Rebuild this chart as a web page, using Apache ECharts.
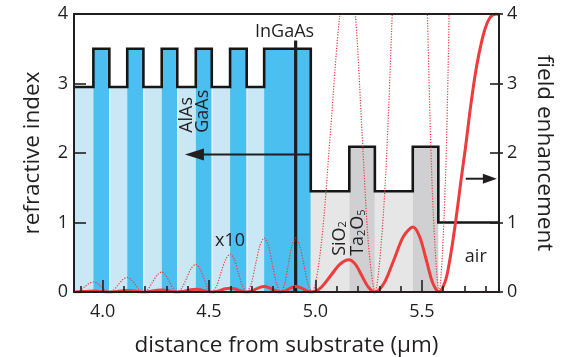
<!DOCTYPE html>
<html><head><meta charset="utf-8">
<script src="https://cdn.jsdelivr.net/npm/echarts@6/dist/echarts.min.js"></script>
<style>html,body{margin:0;padding:0;background:#fff}#c{width:562px;height:357px}</style>
</head><body><div id="c"></div>
<script>
// ---------------- data ----------------
const xRange = [3.866, 5.862];
const xTickLabels = [4.0, 4.5, 5.0, 5.5];
const xMinorTicks = [3.9, 4.1, 4.2, 4.3, 4.4, 4.6, 4.7, 4.8, 4.9, 5.1, 5.2, 5.3, 5.4, 5.6, 5.7, 5.8];
const yRange = [0, 4];

// layer structure (refractive index profile)
const layerStart = [3.866, 3.957, 4.032, 4.116, 4.192, 4.278, 4.351, 4.438, 4.513, 4.599, 4.677, 4.759, 4.978, 5.159, 5.279, 5.457, 5.577];
const layerEnd = 5.862;
const layerIndex = [2.95, 3.5, 2.95, 3.5, 2.95, 3.5, 2.95, 3.5, 2.95, 3.5, 2.95, 3.5, 1.45, 2.09, 1.45, 2.09, 1.0];
const layerMaterial = ['AlAs','GaAs','AlAs','GaAs','AlAs','GaAs','AlAs','GaAs','AlAs','GaAs','AlAs','GaAs','SiO2','Ta2O5','SiO2','Ta2O5','air'];

// InGaAs quantum well marker
const wellPosition = [4.907];
const wellHeight = [3.62];

// field enhancement |E|^2 (solid); dotted curve is the same x10
const fieldX = [3.866,
  3.872, 3.893, 3.915, 3.936, 3.957, 3.976, 3.995, 4.013,
  4.032, 4.053, 4.074, 4.095, 4.116, 4.135, 4.154, 4.173,
  4.192, 4.214, 4.235, 4.257, 4.278, 4.296, 4.315, 4.333,
  4.351, 4.373, 4.395, 4.416, 4.438, 4.457, 4.476, 4.494,
  4.513, 4.535, 4.556, 4.578, 4.599, 4.619, 4.638, 4.658,
  4.677, 4.698, 4.718, 4.739, 4.759, 4.779, 4.798, 4.818,
  4.837, 4.855, 4.872, 4.890, 4.907, 4.926, 4.946, 4.965,
  4.984, 5.027, 5.071, 5.114, 5.157, 5.188, 5.218, 5.249,
  5.279, 5.324, 5.369, 5.413, 5.458, 5.489, 5.520, 5.550,
  5.581, 5.597, 5.616, 5.639, 5.660, 5.682, 5.705, 5.730, 5.757, 5.791, 5.820, 5.850, 5.862];
const fieldY = [0.0001,
  0, 0.0021, 0.0072, 0.0123, 0.0144, 0.0123, 0.0072, 0.0021,
  0, 0.0031, 0.0105, 0.0179, 0.021, 0.0179, 0.0105, 0.0031,
  0, 0.0042, 0.0144, 0.0246, 0.0288, 0.0246, 0.0144, 0.0042,
  0, 0.0058, 0.0199, 0.0339, 0.0397, 0.0339, 0.0199, 0.0058,
  0, 0.008, 0.0274, 0.0467, 0.0547, 0.0467, 0.0274, 0.008,
  0, 0.0113, 0.0389, 0.0664, 0.0777, 0.0664, 0.0389, 0.0113,
  0, 0.0113, 0.0389, 0.0664, 0.0777, 0.0664, 0.0389, 0.0113,
  0, 0.068, 0.233, 0.397, 0.465, 0.397, 0.233, 0.068,
  0, 0.137, 0.468, 0.798, 0.935, 0.798, 0.468, 0.137,
  0, 0.06, 0.22, 0.61, 1.05, 1.57, 2.09, 2.70, 3.25, 3.73, 3.95, 4.0, 3.99];
const dottedScale = 10;

// ---------------- styling / layout ----------------
const FONT = '"Open Sans", "Liberation Sans", sans-serif';
const INK = '#231f20';
const RED = '#ee3b3b';
const matColor = {AlAs:'#c9e7f5', GaAs:'#4abff0', SiO2:'#e6e6e7', Ta2O5:'#d0d0d3', air:null};

const layerData = layerStart.map((s, i) => [s, i + 1 < layerStart.length ? layerStart[i + 1] : layerEnd, layerIndex[i], i]);
const stepData = layerStart.map((s, i) => [s, layerIndex[i]]).concat([[layerEnd, layerIndex[layerIndex.length - 1]]]);
const fieldData = fieldX.map((x, i) => [x, fieldY[i]]);
const fieldData10 = fieldX.map((x, i) => [x, fieldY[i] * dottedScale]);
const wellData = [[wellPosition[0], 0], [wellPosition[0], wellHeight[0]]];

// annotation layout (data coordinates)
const arrows = [
  {from: [4.978, 1.98], to: [4.387, 1.98], head: [19, 12]},
  {from: [5.706, 1.63], to: [5.852, 1.63], head: [14, 10]}
];
const texts = [
  {t: 'InGaAs', x: 4.855, y: 3.75, rot: 0, align: 'center'},
  {t: 'AlAs', x: 4.397, y: 2.29, rot: 90, align: 'left'},
  {t: 'GaAs', x: 4.473, y: 2.29, rot: 90, align: 'left'},
  {t: 'x10', x: 4.599, y: 0.74, rot: 0, align: 'center'},
  {t: '{m|SiO}{s|2}', x: 5.100, y: 0.52, rot: 90, align: 'left'},
  {t: '{m|Ta}{s|2}{m|O}{s|5}', x: 5.186, y: 0.52, rot: 90, align: 'left'},
  {t: 'air', x: 5.753, y: 0.51, rot: 0, align: 'center'}
];

const chart = echarts.init(document.getElementById('c'), null, {renderer: 'canvas', width: 562, height: 357});

const axisLineStyle = {color: INK, width: 2};
const tickStyle = {color: INK, width: 1.6};
const labelStyle = {color: INK, fontSize: 18, fontFamily: FONT};
const nameStyle = {color: INK, fontSize: 22.5, fontFamily: FONT};

const option = {
  animation: false,
  backgroundColor: '#ffffff',
  grid: {left: 74, right: 63, top: 14, bottom: 65, containLabel: false, outerBoundsMode: 'none'},
  xAxis: [
    {type: 'value', min: xRange[0], max: xRange[1], position: 'bottom', z: 10,
      axisLine: {show: true, onZero: false, lineStyle: axisLineStyle},
      axisTick: {show: true, inside: true, length: 12, customValues: xTickLabels, lineStyle: tickStyle},
      axisLabel: Object.assign({customValues: xTickLabels, formatter: v => Number(v).toFixed(1), margin: 11}, labelStyle),
      splitLine: {show: false},
      name: 'distance from substrate (μm)', nameLocation: 'middle', nameGap: 42, nameTextStyle: nameStyle},
    {type: 'value', min: xRange[0], max: xRange[1], position: 'bottom', z: 10,
      axisLine: {show: false, onZero: false},
      axisTick: {show: true, inside: true, length: 6, customValues: xMinorTicks, lineStyle: tickStyle},
      axisLabel: {show: false}, splitLine: {show: false}},
    {type: 'value', min: xRange[0], max: xRange[1], position: 'top', z: 10,
      axisLine: {show: true, onZero: false, lineStyle: axisLineStyle},
      axisTick: {show: false}, axisLabel: {show: false}, splitLine: {show: false}}
  ],
  yAxis: [
    {type: 'value', min: yRange[0], max: yRange[1], interval: 1, position: 'left', z: 10,
      axisLine: {show: true, lineStyle: axisLineStyle},
      axisTick: {show: true, inside: true, length: 12, lineStyle: tickStyle},
      axisLabel: Object.assign({margin: 6}, labelStyle),
      splitLine: {show: false},
      name: 'refractive index', nameLocation: 'middle', nameGap: 30, nameTextStyle: nameStyle},
    {type: 'value', min: yRange[0], max: yRange[1], interval: 1, position: 'right', z: 10,
      axisLine: {show: true, lineStyle: axisLineStyle},
      axisTick: {show: true, inside: true, length: 9, lineStyle: tickStyle},
      axisLabel: Object.assign({margin: 8}, labelStyle),
      splitLine: {show: false},
      name: 'field enhancement', nameLocation: 'middle', nameRotate: -90, nameGap: 34, nameTextStyle: nameStyle},
    {type: 'value', min: yRange[0], max: yRange[1], interval: 1, position: 'right', z: 10,
      axisLine: {show: false},
      axisTick: {show: true, inside: false, length: 4, lineStyle: tickStyle},
      axisLabel: {show: false}, splitLine: {show: false}}
  ],
  series: [
    {type: 'custom', name: 'layers', xAxisIndex: 0, yAxisIndex: 0, z: 1, silent: true,
      data: layerData,
      encode: {x: [0, 1], y: 2},
      renderItem: (params, api) => {
        const x0 = api.value(0), x1 = api.value(1), n = api.value(2);
        const mat = layerMaterial[api.value(3)];
        const col = matColor[mat];
        if (!col) return null;
        const p0 = api.coord([x0, 0]);
        const p1 = api.coord([x1, n]);
        const children = [{type: 'rect', shape: {x: p0[0], y: p1[1], width: p1[0] - p0[0], height: p0[1] - p1[1]}, style: {fill: col}}];
        if (mat === 'AlAs' && params.dataIndex > 0) {
          children.push({type: 'line', shape: {x1: p0[0] + 0.5, y1: p0[1], x2: p0[0] + 0.5, y2: p1[1]}, style: {stroke: '#e4f3fb', lineWidth: 1.2}});
        }
        return {type: 'group', children};
      }},
    {type: 'line', name: 'refractive index', xAxisIndex: 0, yAxisIndex: 0, z: 3, step: 'end',
      data: stepData, showSymbol: false, symbol: 'none', silent: true,
      lineStyle: {color: '#161616', width: 2.6, join: 'miter'}},
    {type: 'line', name: 'InGaAs', xAxisIndex: 0, yAxisIndex: 0, z: 3,
      data: wellData, showSymbol: false, symbol: 'none', silent: true,
      lineStyle: {color: '#1e1e1e', width: 3.2, cap: 'butt'}},
    {type: 'line', name: 'field x10', xAxisIndex: 0, yAxisIndex: 1, z: 4,
      data: fieldData10, showSymbol: false, symbol: 'none', smooth: 0.3, silent: true, clip: true,
      lineStyle: {color: RED, width: 1.2, type: [1.2, 1.5]}},
    {type: 'line', name: 'field', xAxisIndex: 0, yAxisIndex: 1, z: 5,
      data: fieldData, showSymbol: false, symbol: 'none', smooth: 0.3, silent: true, clip: true,
      lineStyle: {color: RED, width: 3}},
    {type: 'custom', name: 'annotations', xAxisIndex: 0, yAxisIndex: 0, z: 6, silent: true,
      data: [[4.5, 2]],
      renderItem: (params, api) => {
        const children = [];
        arrows.forEach(a => {
          const p0 = api.coord(a.from), p1 = api.coord(a.to);
          const dx = p1[0] - p0[0], dy = p1[1] - p0[1];
          const len = Math.hypot(dx, dy);
          const ux = dx / len, uy = dy / len;
          const hl = a.head[0], hw = a.head[1];
          const bx = p1[0] - ux * hl, by = p1[1] - uy * hl;
          children.push({type: 'line', shape: {x1: p0[0], y1: p0[1], x2: bx + ux * 2, y2: by + uy * 2}, style: {stroke: INK, lineWidth: 2}});
          children.push({type: 'polygon', shape: {points: [[p1[0], p1[1]], [bx - uy * hw / 2, by + ux * hw / 2], [bx + uy * hw / 2, by - ux * hw / 2]]}, style: {fill: INK}});
        });
        texts.forEach(t => {
          const p = api.coord([t.x, t.y]);
          children.push({type: 'text', x: p[0], y: p[1], rotation: t.rot * Math.PI / 180,
            style: {text: t.t, x: 0, y: 0, fill: INK, fontSize: 18, fontFamily: FONT,
              align: t.align, verticalAlign: 'middle',
              rich: {
                m: {fontSize: 18, fontFamily: FONT, fill: INK, lineHeight: 24, verticalAlign: 'bottom'},
                s: {fontSize: 11, fontFamily: FONT, fill: INK, lineHeight: 12, verticalAlign: 'bottom'}
              }}});
        });
        return {type: 'group', children};
      }}
  ]
};
chart.setOption(option);
</script>
</body></html>
